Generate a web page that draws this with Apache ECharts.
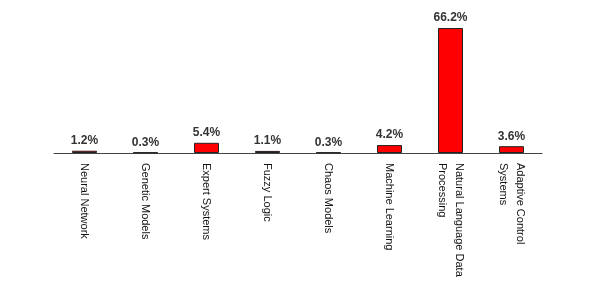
<!DOCTYPE html>
<html><head><meta charset="utf-8">
<script src="https://cdn.jsdelivr.net/npm/echarts@6/dist/echarts.min.js"></script>
<style>html,body{margin:0;padding:0;background:#fff}#c{width:600px;height:300px}</style>
</head><body><div id="c"></div>
<script>
const categories = ["Neural Network","Genetic Models","Expert Systems","Fuzzy Logic","Chaos Models","Machine Learning","Natural Language Data\nProcessing","Adaptive Control\nSystems"];
const values = [1.2, 0.3, 5.4, 1.1, 0.3, 4.2, 66.2, 3.6];
const chart = echarts.init(document.getElementById('c'), null, {renderer:'canvas'});
chart.setOption({
  animation:false,
  backgroundColor:'#fff',
  grid:{left:54,right:58,top:28,bottom:147},
  xAxis:{type:'category',data:categories,
    axisLine:{lineStyle:{color:'#444',width:1}},
    axisTick:{show:false},
    axisLabel:{rotate:-90,interval:0,margin:10,fontSize:11,lineHeight:17,color:'#111',fontFamily:'Liberation Sans, Arial, sans-serif'}},
  yAxis:{type:'value',min:0,max:66.2,show:false,splitLine:{show:false}},
  series:[{type:'bar',data:values,barWidth:25,
    itemStyle:{color:'#ff0000',borderColor:'#222',borderWidth:1},
    label:{show:true,position:'top',distance:4,formatter:p=>p.value.toFixed(1)+'%',fontSize:12,fontWeight:'bold',color:'#333',fontFamily:'Liberation Sans, Arial, sans-serif'}}]
});
</script></body></html>
